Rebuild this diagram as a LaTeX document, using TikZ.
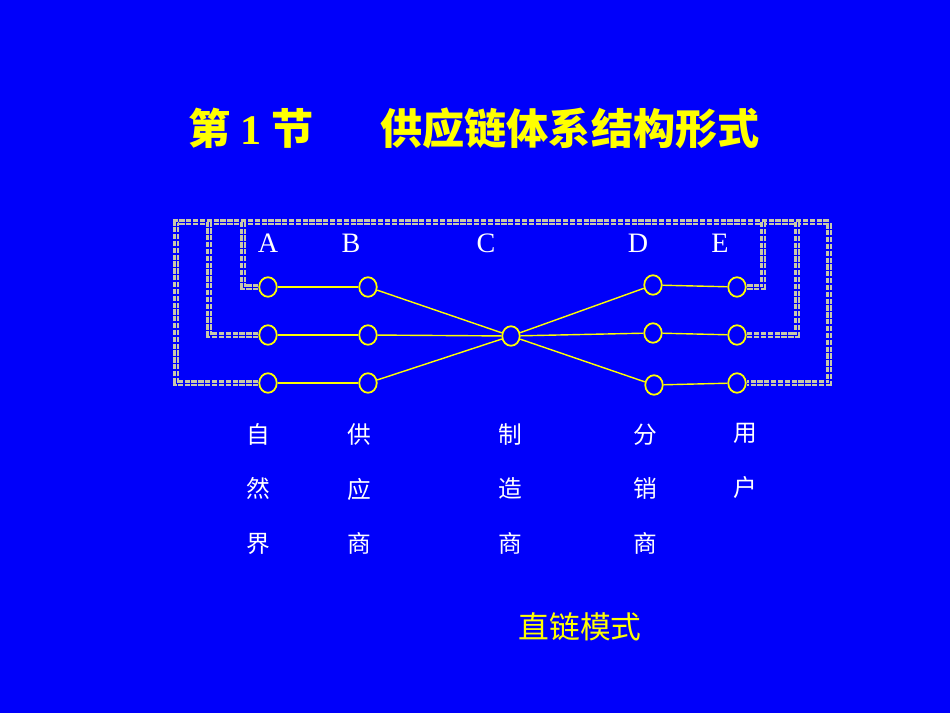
\documentclass[tikz,border=0pt]{standalone}
\usepackage{fontspec}
\setmainfont{Liberation Serif}
\newfontfamily\cjk{Noto Sans CJK SC}
\usetikzlibrary{shapes.geometric}
\definecolor{slideblue}{RGB}{0,0,250}
\definecolor{slideyellow}{RGB}{255,255,0}
\definecolor{dashgray}{RGB}{200,200,170}
\tikzset{
  site/.style={draw=slideyellow, line width=1pt, ellipse, minimum width=0.35cm, minimum height=0.39cm, inner sep=0pt},
  link/.style={slideyellow, line width=0.8pt},
  loopline/.style={draw=dashgray, line width=1.25pt, double=slideblue, double distance=0.45pt, dash pattern=on 3pt off 0.9pt},
  letter/.style={white, font=\fontsize{16}{18}\selectfont},
  role/.style={white, align=center, font=\cjk\fontsize{13.5}{31.2}\selectfont},
}

\begin{document}
\begin{tikzpicture}[x=0.02cm, y=-0.02cm]
  \fill [slideblue] (0,0) rectangle (950,713);
  \useasboundingbox (0,0) rectangle (950,713);

  % title
  \node [slideyellow, font=\cjk\bfseries\fontsize{24}{28}\selectfont] (sec) at (251,128) {第 \textrm{1} 节};
  \node [slideyellow, font=\cjk\bfseries\fontsize{24}{28}\selectfont] (title) at (570,128) {供应链体系结构形式};

  % stages
  \node [site] (a1) at (268,287) {};
  \node [site] (a2) at (268,335) {};
  \node [site] (a3) at (268,383) {};
  \node [site] (b1) at (368,287) {};
  \node [site] (b2) at (368,335) {};
  \node [site] (b3) at (368,383) {};
  \node [site] (c) at (511,336) {};
  \node [site] (d1) at (653,285) {};
  \node [site] (d2) at (653,333) {};
  \node [site] (d3) at (654,385) {};
  \node [site] (e1) at (737,287) {};
  \node [site] (e2) at (737,335) {};
  \node [site] (e3) at (737,383) {};

  \node [letter] (la) at (268,243) {A};
  \node [letter] (lb) at (351,243) {B};
  \node [letter] (lc) at (486,243) {C};
  \node [letter] (ld) at (638,243) {D};
  \node [letter] (le) at (720,243) {E};

  % return loops
  \coordinate (o1) at (176,383);
  \coordinate (o2) at (176,222);
  \coordinate (o3) at (829,222);
  \coordinate (o4) at (829,383);
  \coordinate (m1) at (209,335);
  \coordinate (m2) at (209,222);
  \coordinate (m3) at (797,222);
  \coordinate (m4) at (797,335);
  \coordinate (i1) at (243,287);
  \coordinate (i2) at (243,222);
  \coordinate (i3) at (763,222);
  \coordinate (i4) at (763,287);
  \draw [loopline] (a3.west) -- (o1) -- (o2) -- (o3) -- (o4) -- (e3.east);
  \draw [loopline] (a2.west) -- (m1) -- (m2);
  \draw [loopline] (m3) -- (m4) -- (e2.east);
  \draw [loopline] (a1.west) -- (i1) -- (i2);
  \draw [loopline] (i3) -- (i4) -- (e1.east);

  % chain links
  \draw [link] (a1) -- (b1);
  \draw [link] (a2) -- (b2);
  \draw [link] (a3) -- (b3);
  \draw [link] (b1) -- (c);
  \draw [link] (b2) -- (c);
  \draw [link] (b3) -- (c);
  \draw [link] (c) -- (d1);
  \draw [link] (c) -- (d2);
  \draw [link] (c) -- (d3);
  \draw [link] (d1) -- (e1);
  \draw [link] (d2) -- (e2);
  \draw [link] (d3) -- (e3);

  % roles
  \node [role] (ra) at (258,489) {自\\然\\界};
  \node [role] (rb) at (359,489) {供\\应\\商};
  \node [role] (rc) at (510,489) {制\\造\\商};
  \node [role] (rd) at (645,489) {分\\销\\商};
  \node [role] (re) at (745,461) {用\\户};

  \node [slideyellow, font=\cjk\fontsize{17.5}{20}\selectfont] (mode) at (580,627) {直链模式};
\end{tikzpicture}
\end{document}
